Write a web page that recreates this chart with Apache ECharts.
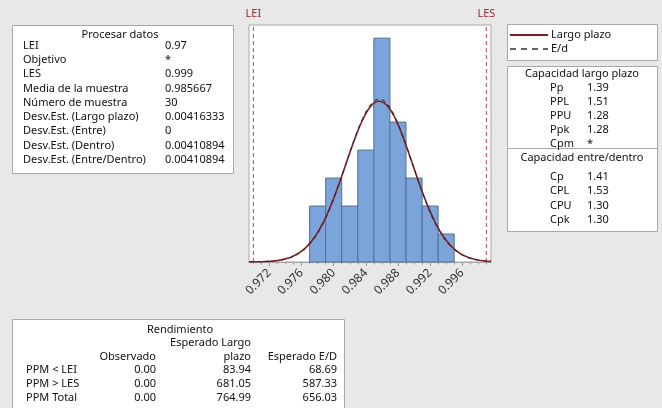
<!DOCTYPE html>
<html>
<head>
<meta charset="utf-8">
<script src="https://cdn.jsdelivr.net/npm/echarts@6/dist/echarts.min.js"></script>
<style>
  html, body { margin: 0; padding: 0; background: #e8e8e8; }
  #chart { width: 662px; height: 408px; }
</style>
</head>
<body>
<div id="chart"></div>
<script>
// Histogram bins (centre of each bin) and observed counts
const binCenters = [0.978, 0.980, 0.982, 0.984, 0.986, 0.988, 0.990, 0.992, 0.994];
const binCounts  = [2, 3, 2, 4, 8, 5, 3, 2, 1];
const binWidth = 0.002;

// Specification limits
const LEI = 0.97;
const LES = 0.999;

// Process parameters (as listed in the data panel)
const sampleMean = 0.985667;
const sampleSize = 30;
const sdOverall = 0.00416333;
const sdWithin = 0.00410894;

// Axis tick labels
const majorTicks = [0.972, 0.976, 0.980, 0.984, 0.988, 0.992, 0.996];
const minorTicks = [];
for (let k = 970; k <= 999; k++) minorTicks.push(k / 1000);

// Panel texts
const processRows = [
  ['LEI', '0.97'], ['Objetivo', '*'], ['LES', '0.999'],
  ['Media de la muestra', '0.985667'], ['Número de muestra', '30'],
  ['Desv.Est. (Largo plazo)', '0.00416333'], ['Desv.Est. (Entre)', '0'],
  ['Desv.Est. (Dentro)', '0.00410894'], ['Desv.Est. (Entre/Dentro)', '0.00410894']
];
const overallRows = [['Pp', '1.39'], ['PPL', '1.51'], ['PPU', '1.28'], ['Ppk', '1.28'], ['Cpm', '*']];
const withinRows = [['Cp', '1.41'], ['CPL', '1.53'], ['CPU', '1.30'], ['Cpk', '1.30']];
const perfRows = [
  ['PPM < LEI', '0.00', '83.94', '68.69'],
  ['PPM > LES', '0.00', '681.05', '587.33'],
  ['PPM Total', '0.00', '764.99', '656.03']
];

const xMin = 0.96946, xMax = 0.99958;
const yMax = 8.47;

// Fitted normal curves, scaled to histogram counts
function normalCurve(mu, sd) {
  const pts = [];
  const steps = 240;
  for (let i = 0; i <= steps; i++) {
    const x = xMin + (xMax - xMin) * i / steps;
    const z = (x - mu) / sd;
    const y = sampleSize * binWidth * Math.exp(-0.5 * z * z) / (sd * Math.sqrt(2 * Math.PI));
    pts.push([x, y]);
  }
  return pts;
}

const FONT = 'Noto Sans';
const FS = 11;
const TXT = '#111111';

function txt(x, y, s, align, extra) {
  return Object.assign({
    type: 'text', x: x, y: y, z: 10,
    style: { text: s, fill: TXT, font: FS + 'px "' + FONT + '"', textAlign: align || 'left', textVerticalAlign: 'middle' }
  }, extra || {});
}
function box(x, y, w, h) {
  return { type: 'rect', z: 5, shape: { x: x + 0.5, y: y + 0.5, width: w, height: h },
    style: { fill: '#ffffff', stroke: '#a8a8a8', lineWidth: 1 } };
}
function hline(x1, x2, y) {
  return { type: 'line', z: 6, shape: { x1: x1, y1: y + 0.5, x2: x2, y2: y + 0.5 },
    style: { stroke: '#a8a8a8', lineWidth: 1 } };
}

const graphics = [];
// Data panel
graphics.push(box(12, 25, 221, 148));
graphics.push(txt(120, 35, 'Procesar datos', 'center'));
processRows.forEach((r, i) => {
  const y = 45.5 + i * 14.3;
  graphics.push(txt(23, y, r[0]));
  graphics.push(txt(165, y, r[1]));
});

// Legend panel
graphics.push(box(507, 24, 150, 36));
graphics.push({ type: 'line', z: 6, shape: { x1: 510, y1: 35, x2: 548, y2: 35 },
  style: { stroke: '#7d1f25', lineWidth: 2 } });
graphics.push({ type: 'line', z: 6, shape: { x1: 510, y1: 49, x2: 548, y2: 49 },
  style: { stroke: '#333333', lineWidth: 1.3, lineDash: [6, 5] } });
graphics.push(txt(551, 34.5, 'Largo plazo'));
graphics.push(txt(551, 48.5, 'E/d'));

// Capability panel
graphics.push(box(507, 66, 150, 165));
graphics.push(hline(507, 657, 148));
graphics.push(txt(582, 73.5, 'Capacidad largo plazo', 'center'));
overallRows.forEach((r, i) => {
  const y = 87.5 + i * 14;
  graphics.push(txt(550, y, r[0]));
  graphics.push(txt(587, y, r[1]));
});
graphics.push(txt(582, 158, 'Capacidad entre/dentro', 'center'));
withinRows.forEach((r, i) => {
  const y = 176.5 + i * 14.5;
  graphics.push(txt(550, y, r[0]));
  graphics.push(txt(587, y, r[1]));
});

// Performance panel
graphics.push(box(12, 319, 332, 95));
graphics.push(txt(180, 329.5, 'Rendimiento', 'center'));
graphics.push(txt(251, 343, 'Esperado Largo', 'right'));
graphics.push(txt(156, 356.5, 'Observado', 'right'));
graphics.push(txt(251, 356.5, 'plazo', 'right'));
graphics.push(txt(337, 356.5, 'Esperado E/D', 'right'));
perfRows.forEach((r, i) => {
  const y = 370 + i * 14;
  graphics.push(txt(26, y, r[0]));
  graphics.push(txt(156, y, r[1], 'right'));
  graphics.push(txt(251, y, r[2], 'right'));
  graphics.push(txt(337, y, r[3], 'right'));
});

// Vertical specification-limit line with its name above the plot
function limitSeries(name, x) {
  return {
    type: 'line', name: name, z: 3, clip: false,
    symbol: 'circle', symbolSize: 0.1, showSymbol: true,
    lineStyle: { color: '#b8454a', width: 1, type: [4, 3] },
    itemStyle: { color: 'transparent' },
    data: [
      { value: [x, 0], label: { show: false } },
      { value: [x, yMax], label: {
          show: true, position: 'top', distance: 6, formatter: name,
          color: '#8b2e32', fontSize: 11, fontFamily: FONT } }
    ]
  };
}

const chart = echarts.init(document.getElementById('chart'), null, { renderer: 'canvas' });

chart.setOption({
  backgroundColor: '#e8e8e8',
  animation: false,
  textStyle: { fontFamily: FONT },
  grid: {
    left: 249, top: 25, width: 242, height: 237,
    show: true, backgroundColor: '#ffffff', borderColor: '#a8a8a8', borderWidth: 1
  },
  xAxis: [
    {
      type: 'value', min: xMin, max: xMax, position: 'bottom',
      splitLine: { show: false },
      axisLine: { show: true, lineStyle: { color: '#a8a8a8' } },
      axisTick: { show: true, length: 4, customValues: majorTicks, lineStyle: { color: '#9a9a9a' } },
      axisLabel: {
        customValues: majorTicks, rotate: 45, margin: 9,
        color: '#333333', fontSize: 12, fontFamily: FONT,
        formatter: v => v.toFixed(3)
      }
    },
    {
      // minor ticks drawn along the bottom edge
      type: 'value', min: xMin, max: xMax, position: 'top', offset: -237,
      splitLine: { show: false },
      axisLine: { show: false },
      axisTick: { show: true, inside: true, length: 2.5, customValues: minorTicks, lineStyle: { color: '#9a9a9a' } },
      axisLabel: { show: false }
    }
  ],
  yAxis: {
    type: 'value', min: 0, max: yMax, show: false, splitLine: { show: false }
  },
  graphic: graphics,
  series: [
    {
      type: 'custom',
      name: 'hist',
      data: binCenters.map((c, i) => [c, binCounts[i]]),
      renderItem: function (params, api) {
        const c = api.value(0), n = api.value(1);
        const p0 = api.coord([c - binWidth / 2, n]);
        const p1 = api.coord([c + binWidth / 2, 0]);
        return {
          type: 'rect',
          shape: { x: p0[0], y: p0[1], width: p1[0] - p0[0], height: p1[1] - p0[1] },
          style: { fill: '#7ba4da', stroke: '#56708f', lineWidth: 1 }
        };
      },
      z: 2
    },
    {
      type: 'line', name: 'Largo plazo', data: normalCurve(sampleMean, sdOverall),
      showSymbol: false, smooth: false, z: 4,
      lineStyle: { color: '#7d1f25', width: 1.6 }
    },
    {
      type: 'line', name: 'E/d', data: normalCurve(sampleMean, sdWithin),
      showSymbol: false, smooth: false, z: 5,
      lineStyle: { color: '#3a2222', width: 1, type: [4, 4] }
    },
    limitSeries('LEI', LEI),
    limitSeries('LES', LES)
  ]
});
</script>
</body>
</html>
